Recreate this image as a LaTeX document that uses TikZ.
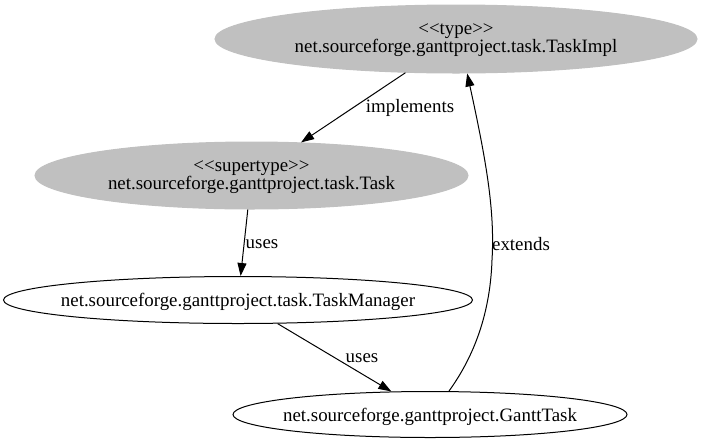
\documentclass[tikz,border=0pt]{standalone}
\usepackage{fontspec}
\setmainfont{Liberation Serif}
\usetikzlibrary{shapes.geometric,arrows.meta}
\definecolor{nodegray}{RGB}{192,192,192}
\newcommand{\lgg}{<\kern0pt<}
\newcommand{\rgg}{>\kern0pt>}
\tikzset{
  gnode/.style={ellipse, inner sep=0pt},
  grayfill/.style={gnode, fill=nodegray, draw=nodegray, line width=1pt},
  whitenode/.style={gnode, draw=black, line width=1pt},
  ntext/.style={font=\fontsize{18.9}{16.7}\selectfont, inner sep=0pt, anchor=base},
  lbl/.style={font=\fontsize{18.9}{16.7}\selectfont, inner sep=0pt},
  arr/.style={line width=1pt, -{Triangle[length=13pt,width=9pt]}}
}
\begin{document}
\begin{tikzpicture}[x=1pt,y=-1pt]
\useasboundingbox (0,0) rectangle (701,445);
\node[grayfill, minimum width=482pt, minimum height=68pt] (impl) at (456,39) {};
\node[ntext] (impl1) at (456,34.5) {\lgg type\rgg};
\node[ntext] (impl2) at (456,52) {net.sourceforge.ganttproject.task.TaskImpl};
\node[grayfill, minimum width=433pt, minimum height=67pt] (task) at (251.5,175.5) {};
\node[ntext] (task1) at (251.5,171.5) {\lgg supertype\rgg};
\node[ntext] (task2) at (251.5,189.5) {net.sourceforge.ganttproject.task.Task};
\node[whitenode, minimum width=469pt, minimum height=47pt] (mgr) at (238,300) {};
\node[ntext] (mgrt) at (238,306.5) {net.sourceforge.ganttproject.task.TaskManager};
\node[whitenode, minimum width=394pt, minimum height=46pt] (gantt) at (430,414.5) {};
\node[ntext] (ganttt) at (430,421) {net.sourceforge.ganttproject.GanttTask};
\draw[arr] (impl) -- (task);
\draw[arr] (task) -- (mgr);
\draw[arr] (mgr) -- (gantt);
\draw[arr] (gantt.51) .. controls (470,362) and (490,320) .. (492,260)
  .. controls (495,210) and (486,160) .. (impl.-72);
\node[lbl] (limpl) at (410,108) {implements};
\node[lbl] (luses1) at (262,244) {uses};
\node[lbl] (luses2) at (362,358) {uses};
\node[lbl] (lext) at (521,244) {extends};
\end{tikzpicture}
\end{document}
